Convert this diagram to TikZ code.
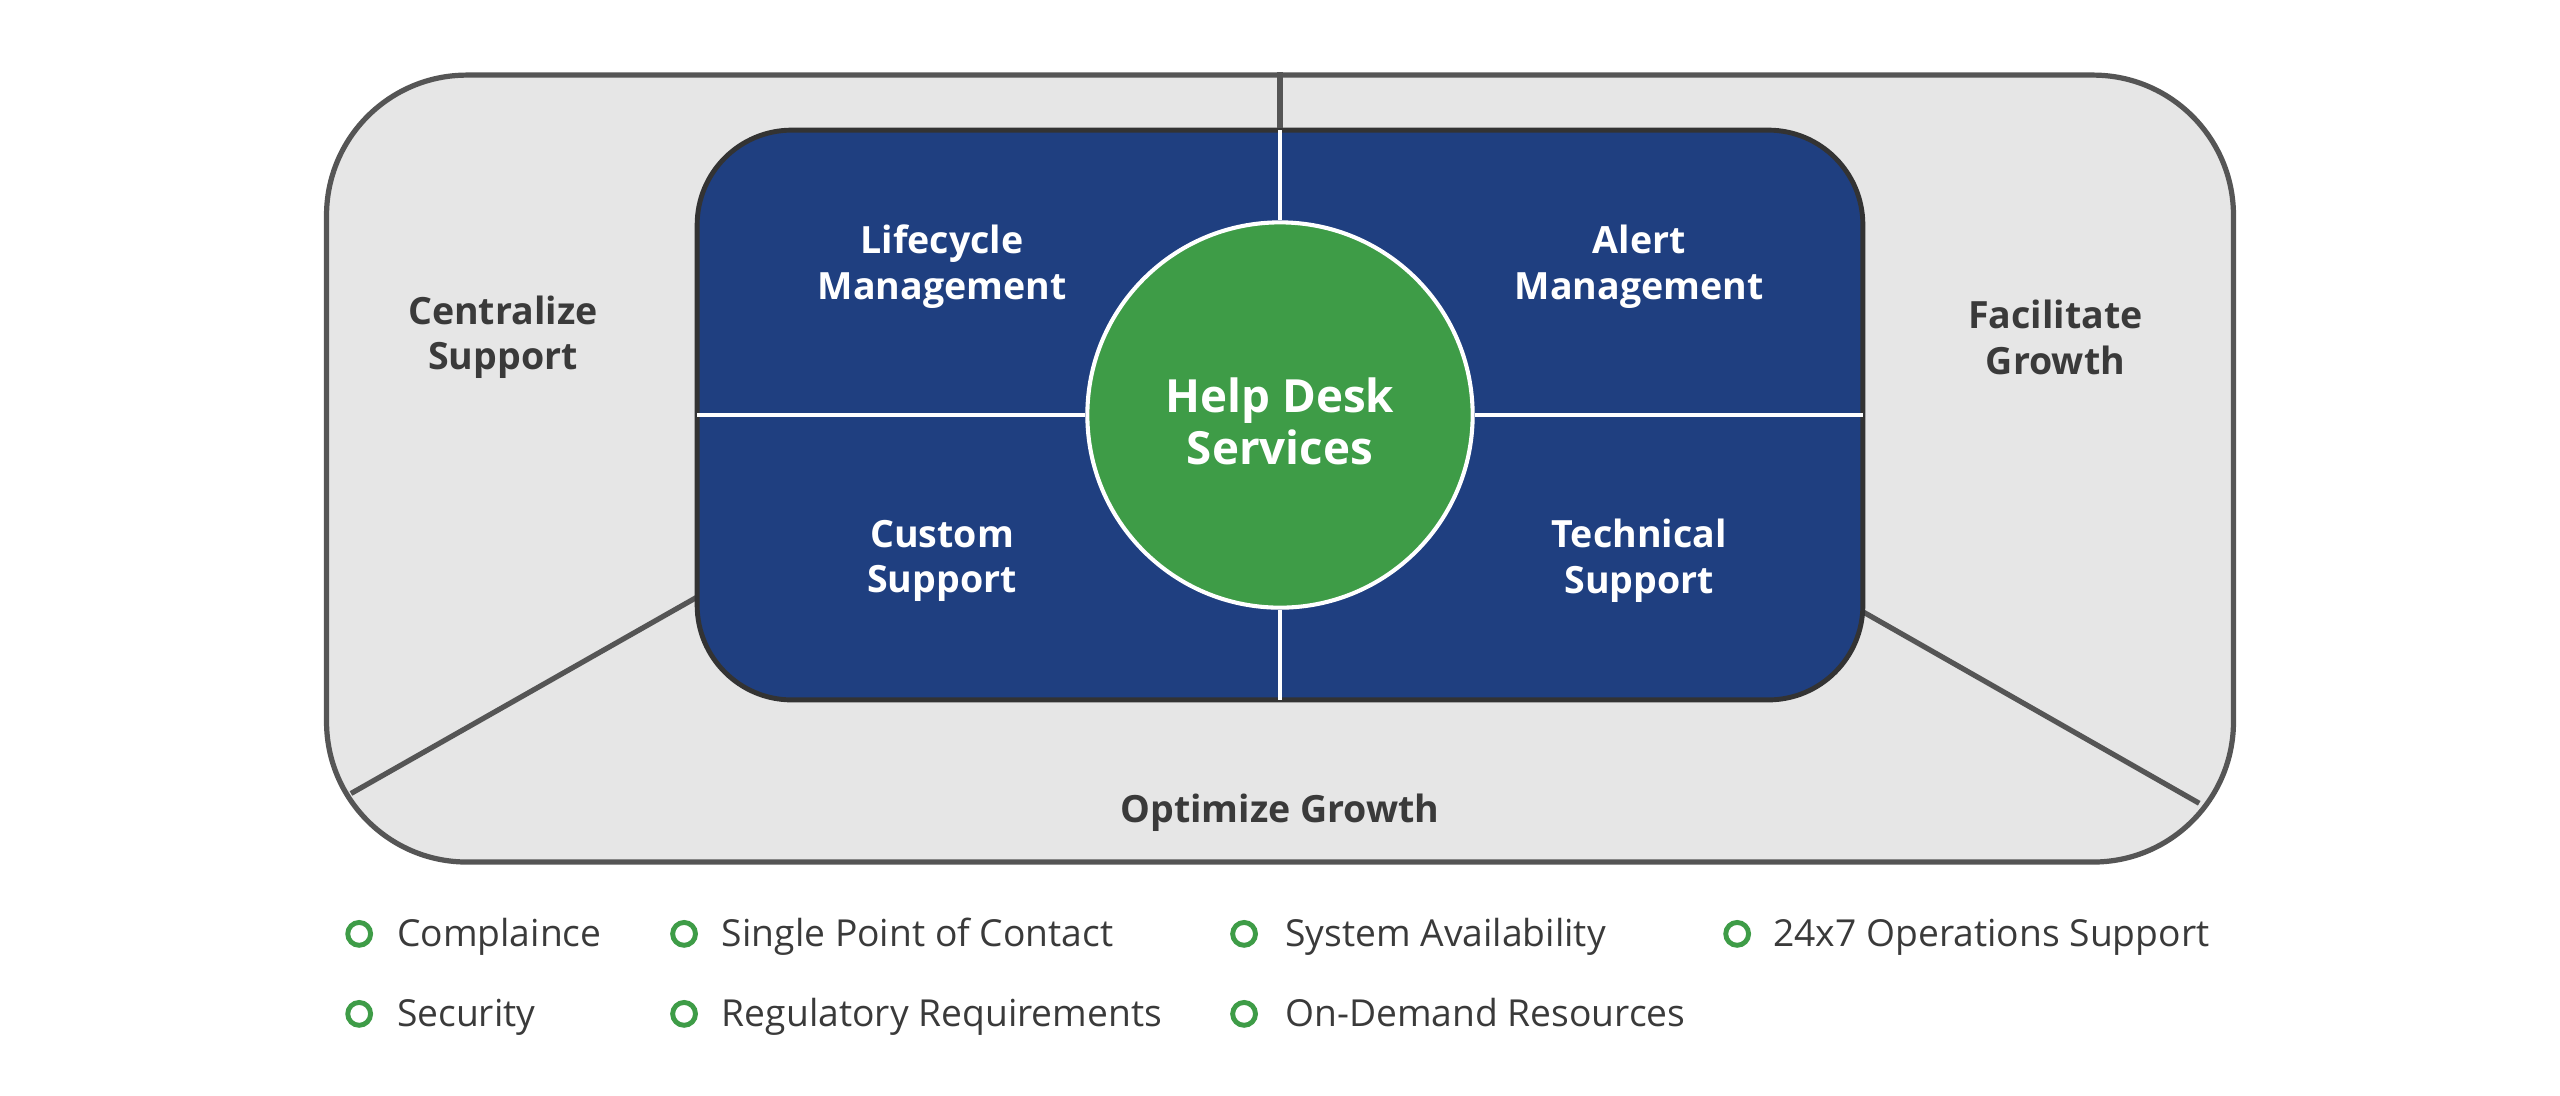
\documentclass[tikz,border=0pt]{standalone}
\usepackage{fontspec}
\setmainfont{Open Sans}
\definecolor{navy}{HTML}{1F3F80}
\definecolor{hubgreen}{HTML}{3E9C47}
\definecolor{panelgray}{HTML}{E6E6E6}
\definecolor{edgegray}{HTML}{555555}
\definecolor{innerEdge}{HTML}{333333}
\definecolor{labelgray}{HTML}{3A3A3A}
\begin{document}
\begin{tikzpicture}[x=1pt,y=-1pt,
  outerbox/.style={draw=edgegray, line width=3.2pt, fill=panelgray, rounded corners=86pt,
    minimum width=1168pt, minimum height=482pt, inner sep=0pt},
  innerbox/.style={draw=innerEdge, line width=3pt, fill=navy, rounded corners=58pt,
    minimum width=714pt, minimum height=349pt, inner sep=0pt},
  hubnode/.style={circle, draw=white, line width=2.5pt, fill=hubgreen, minimum size=236pt,
    inner sep=0pt, text=white, align=center, font=\bfseries\fontsize{28}{32}\selectfont},
  divider/.style={draw=edgegray, line width=3.2pt},
  whiteline/.style={draw=white, line width=3pt},
  quadlabel/.style={text=white, align=center, font=\bfseries\fontsize{23}{28}\selectfont},
  sidelabel/.style={text=labelgray, align=center, font=\bfseries\fontsize{23}{28}\selectfont},
  bulletdot/.style={circle, draw=hubgreen, line width=3pt, minimum size=14pt, inner sep=0pt},
  itemtext/.style={anchor=base west, text=labelgray, inner sep=0pt, font=\fontsize{22.8}{26}\selectfont}
]
\useasboundingbox (0,0) rectangle (1568,670.7);
% outer panel
\node[outerbox] (outer) at (784,287) {};
% diagonal dividers
\coordinate (dlin) at (430,364);
\coordinate (dlout) at (215,486);
\coordinate (drin) at (1138,373);
\coordinate (drout) at (1347,492);
\draw[divider] (dlin) -- (dlout);
\draw[divider] (drin) -- (drout);
% inner panel
\node[innerbox] (inner) at (784,254.2) {};
\draw[divider] (outer.north) -- (inner.north);
% centre hub
\node[hubnode] (hub) at (784,254.2) {};
\node[text=white, align=center, font=\bfseries\fontsize{28}{32}\selectfont] (hubtext) at (784,258) {Help Desk\\Services};
\draw[whiteline] ([yshift=-1.5pt]inner.north) -- (hub.north);
\draw[whiteline] (hub.south) -- ([yshift=1.5pt]inner.south);
\draw[whiteline] ([xshift=1.5pt]inner.west) -- (hub.west);
\draw[whiteline] (hub.east) -- ([xshift=-1.5pt]inner.east);
% quadrant labels
\node[quadlabel] (lifecycle) at (577,163.5) {Lifecycle\\Management};
\node[quadlabel] (alert) at (1004,163.5) {Alert\\Management};
\node[quadlabel] (custom) at (577,343.5) {Custom\\Support};
\node[quadlabel] (technical) at (1004,343.5) {Technical\\Support};
% outer labels
\node[sidelabel] (centralize) at (308,206.5) {Centralize\\Support};
\node[sidelabel] (facilitate) at (1259,206.5) {Facilitate\\Growth};
\node[sidelabel] (optimize) at (784,497.5) {Optimize Growth};
% bullet list
\node[bulletdot] (d1) at (220,572) {};
\node[itemtext] (t1) at (243,580) {Complaince};
\node[bulletdot] (d2) at (419,572) {};
\node[itemtext] (t2) at (442,580) {Single Point of Contact};
\node[bulletdot] (d3) at (762,572) {};
\node[itemtext] (t3) at (787,580) {System Availability};
\node[bulletdot] (d4) at (1064,572) {};
\node[itemtext] (t4) at (1086,580) {24x7 Operations Support};
\node[bulletdot] (d5) at (220,621) {};
\node[itemtext] (t5) at (243,629) {Security};
\node[bulletdot] (d6) at (419,621) {};
\node[itemtext] (t6) at (442,629) {Regulatory Requirements};
\node[bulletdot] (d7) at (762,621) {};
\node[itemtext] (t7) at (787,629) {On-Demand Resources};
\end{tikzpicture}
\end{document}
